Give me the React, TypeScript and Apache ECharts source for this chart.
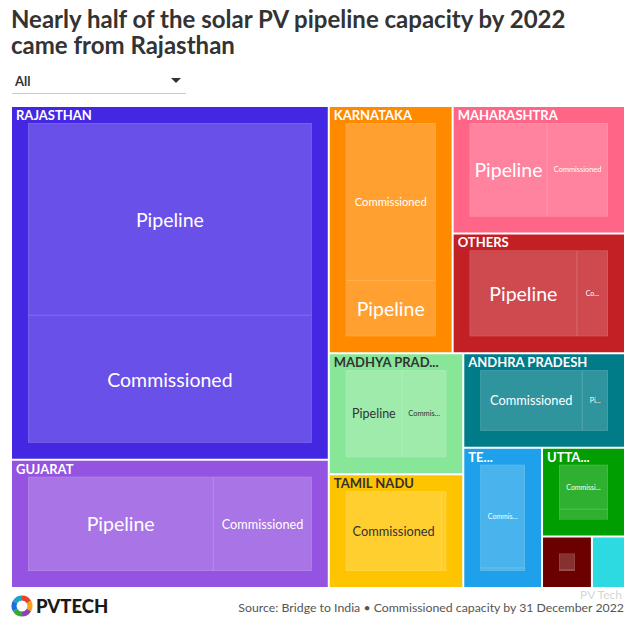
import React, { useEffect, useRef } from 'react';
import * as echarts from 'echarts';

// ---------- data (MW) ----------
const states = [
  'RAJASTHAN', 'GUJARAT', 'KARNATAKA', 'MAHARASHTRA', 'OTHERS', 'MADHYA PRADESH',
  'TAMIL NADU', 'ANDHRA PRADESH', 'TELANGANA', 'UTTAR PRADESH', 'PUNJAB', 'HARYANA',
];
const pipelineMW = [22840, 8985, 2710, 4160, 5415, 3080, 245, 1040, 105, 463, 62, 35];
const commissionedMW = [15160, 4775, 7640, 3260, 1565, 2420, 4925, 4120, 3630, 2030, 805, 540];
const leafNames = ['Pipeline', 'Commissioned'];

const titleLines = ['Nearly half of the solar PV pipeline capacity by 2022', 'came from Rajasthan'];
const filterLabel = 'All';
const sourceText = 'Source: Bridge to India \u2022 Commissioned capacity by 31 December 2022';

// ---------- styles ----------
const stateColors: Record<string, string> = {
  RAJASTHAN: '#4427E3',
  GUJARAT: '#9453E0',
  KARNATAKA: '#FF8A00',
  MAHARASHTRA: '#FF6587',
  OTHERS: '#C32026',
  'MADHYA PRADESH': '#88E698',
  'TAMIL NADU': '#FFC400',
  'ANDHRA PRADESH': '#007B88',
  TELANGANA: '#1EA1EA',
  'UTTAR PRADESH': '#009E00',
  PUNJAB: '#6B0000',
  HARYANA: '#2EDAE2',
};
const darkText = new Set(['MADHYA PRADESH', 'TAMIL NADU']);
const hiddenLabels = new Set(['PUNJAB', 'HARYANA']);
const leafFont: Record<string, [number, number]> = {
  // [Pipeline, Commissioned]
  RAJASTHAN: [19.5, 19.5],
  GUJARAT: [19.5, 12.7],
  KARNATAKA: [19.5, 11.2],
  MAHARASHTRA: [19.5, 7.4],
  OTHERS: [19.5, 7],
  'MADHYA PRADESH': [12.5, 7.5],
  'TAMIL NADU': [7, 12.8],
  'ANDHRA PRADESH': [7, 12.8],
  TELANGANA: [7, 7],
  'UTTAR PRADESH': [7, 7],
  PUNJAB: [7, 7],
  HARYANA: [7, 7],
};
// extra right padding (px) of the state header labels, to mimic the reference truncation
const headerPadRight: Record<string, number> = {
  'MADHYA PRADESH': -12,
  TELANGANA: 16,
  'UTTAR PRADESH': 2,
};
const FONT = 'Lato, "Noto Sans", sans-serif';

function tint(hex: string, a: number) {
  const n = parseInt(hex.slice(1), 16);
  const r = (n >> 16) & 255, g = (n >> 8) & 255, b = n & 255;
  const f = (c: number) => Math.round(c + (255 - c) * a);
  return `rgb(${f(r)},${f(g)},${f(b)})`;
}

function buildStateNodes() {
  const nodes = states.map((s, i) => {
    const vals = [pipelineMW[i], commissionedMW[i]];
    const color = stateColors[s];
    const txt = darkText.has(s) ? '#333333' : '#ffffff';
    const hidden = hiddenLabels.has(s);
    const leaves = leafNames
      .map((ln, j) => ({
        name: ln,
        value: vals[j],
        itemStyle: {
          color: tint(color, 0.19),
          borderColor: 'rgba(255,255,255,0.35)',
          borderWidth: 0.5,
        },
        label: {
          show: !hidden,
          fontSize: leafFont[s][j],
          color: txt,
          fontFamily: FONT,
          padding: leafFont[s][j] < 8 ? [5, 5] : [5, 2],
        },
      }))
      .sort((a, b) => b.value - a.value);
    return {
      total: vals[0] + vals[1],
      node: {
        name: s,
        itemStyle: { color, borderColor: color, borderWidth: 16, gapWidth: 0 },
        upperLabel: {
          show: true,
          height: 16,
          position: [-12, '50%'],
          padding: [0, headerPadRight[s] || 0, 0, 0],
          fontFamily: FONT,
          fontWeight: 'bold',
          fontSize: 13,
          color: txt,
          formatter: hidden ? () => '' : '{b}',
        },
        children: leaves,
      },
    };
  });
  return nodes.sort((a, b) => b.total - a.total);
}

type Item = { total: number; node: any };

// binary partition (balanced split by cumulative value)
function binary(items: Item[]): any {
  if (items.length === 1) return items[0].node;
  const sums = [0];
  items.forEach((it) => sums.push(sums[sums.length - 1] + it.total));
  const half = sums[sums.length - 1] / 2;
  let k = 1;
  while (k < items.length - 1 && sums[k] < half) k++;
  if (k > 1 && half - sums[k - 1] < sums[k] - half) k--;
  return {
    name: '',
    itemStyle: { borderWidth: 0, gapWidth: 2, borderColor: '#ffffff' },
    upperLabel: { show: false, height: 0 },
    children: [binary(items.slice(0, k)), binary(items.slice(k))],
  };
}

export default function App() {
  const ref = useRef<HTMLDivElement>(null);
  useEffect(() => {
    if (!ref.current) return;
    const chart = echarts.init(ref.current, undefined, { renderer: 'svg' });
    const tree = binary(buildStateNodes());
    const ringColors = ['#E8412C', '#F7A21B', '#8E44AD', '#39A935', '#1E6FD9', '#18A7C9'];
    const ring = ringColors.map((c, i) => ({
      type: 'arc',
      shape: {
        cx: 22, cy: 606, r: 8,
        startAngle: -Math.PI / 2 + (i * 2 * Math.PI) / ringColors.length,
        endAngle: -Math.PI / 2 + ((i + 1) * 2 * Math.PI) / ringColors.length,
      },
      style: { stroke: c, lineWidth: 5, fill: 'none' },
      silent: true,
    }));
    chart.setOption({
      animation: false,
      graphic: [
        {
          type: 'text', x: 11, y: 31,
          style: {
            text: titleLines.join('\n'), fontFamily: FONT, fontWeight: 'bold', fontSize: 24, lineHeight: 26,
            fill: '#333333', align: 'left', verticalAlign: 'middle',
          },
        },
        {
          type: 'text', x: 15, y: 81,
          style: { text: filterLabel, fontFamily: FONT, fontWeight: 'bold', fontSize: 13, fill: '#333333', align: 'left', verticalAlign: 'middle' },
        },
        {
          type: 'polygon',
          shape: { points: [[171, 78], [181, 78], [176, 83]] },
          style: { fill: '#333333' },
        },
        {
          type: 'line',
          shape: { x1: 12, y1: 93.5, x2: 186, y2: 93.5 },
          style: { stroke: '#cccccc', lineWidth: 1 },
        },
        ...ring,
        {
          type: 'text', x: 36, y: 606,
          style: { text: 'PVTECH', fontFamily: FONT, fontWeight: 900, fontSize: 18.5, fill: '#1a1a1a', align: 'left', verticalAlign: 'middle' },
        },
        {
          type: 'text', x: 624, y: 607.5,
          style: { text: sourceText, fontFamily: FONT, fontSize: 12.3, fill: '#555555', align: 'right', verticalAlign: 'middle' },
        },
        {
          type: 'text', x: 622, y: 594,
          style: { text: 'PV Tech', fontFamily: FONT, fontSize: 12, fill: 'rgba(170,170,170,0.5)', align: 'right', verticalAlign: 'middle' },
        },
      ],
      series: [
        {
          type: 'treemap',
          left: 12, top: 107, width: 612, height: 480,
          roam: false,
          nodeClick: false,
          breadcrumb: { show: false },
          sort: false,
          squareRatio: 1e-6,
          visibleMin: 0,
          itemStyle: { gapWidth: 2, borderWidth: 0, borderColor: '#ffffff' },
          upperLabel: { show: false, height: 0 },
          label: { show: true, fontFamily: FONT, padding: 5, overflow: 'truncate', ellipsis: '...' },
          emphasis: { disabled: true },
          data: tree.children,
        },
      ],
    });
    return () => chart.dispose();
  }, []);
  return (
    <div
      ref={ref}
      style={{ position: 'absolute', left: 0, top: 0, width: 640, height: 627, background: '#ffffff' }}
    />
  );
}
